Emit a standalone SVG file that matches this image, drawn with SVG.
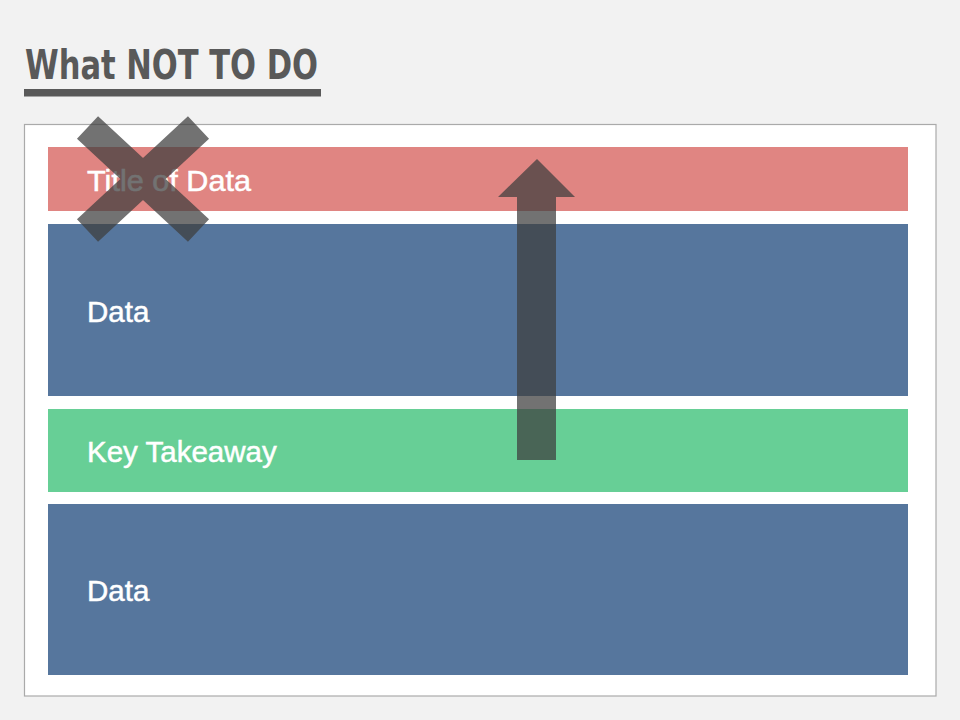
<svg xmlns="http://www.w3.org/2000/svg" width="960" height="720" viewBox="0 0 960 720">
<style>
.band-text{font-family:"Liberation Sans",Arial,sans-serif;font-size:29.5px;fill:#ffffff;stroke:#ffffff;stroke-width:0.5}
.overlay{fill:#3e3e3e;fill-opacity:0.73}
</style>
<rect x="0" y="0" width="960" height="720" fill="#f2f2f2"/>
<g id="title">
<text x="25" y="78.5" font-family="'DejaVu Sans Condensed','DejaVu Sans',sans-serif" font-stretch="condensed" font-weight="bold" font-size="41" fill="#595959" textLength="293" lengthAdjust="spacingAndGlyphs">What NOT TO DO</text>
<rect x="24" y="89" width="297" height="7.5" fill="#595959"/>
</g>
<g id="frame">
<rect x="24.5" y="124.5" width="911.5" height="571.5" fill="#ffffff" stroke="#aaaaaa" stroke-width="1.2"/>
</g>
<g id="title-band">
<rect x="48" y="147" width="860" height="64" fill="#e08582"/>
<text class="band-text" x="87" y="190.5" textLength="164" lengthAdjust="spacingAndGlyphs">Title of Data</text>
</g>
<g id="data-1">
<rect x="48" y="224" width="860" height="172" fill="#56769d"/>
<text class="band-text" x="87" y="322">Data</text>
</g>
<g id="key-takeaway">
<rect x="48" y="409" width="860" height="83" fill="#67cf96"/>
<text class="band-text" x="87" y="462">Key Takeaway</text>
</g>
<g id="data-2">
<rect x="48" y="504" width="860" height="171" fill="#56769d"/>
<text class="band-text" x="87" y="601">Data</text>
</g>
<g id="connectors">
<path id="cross" d="M87.5,127.5 L198.5,230.5 M198.5,127.5 L87.5,230.5" fill="none" stroke="#3e3e3e" stroke-opacity="0.73" stroke-width="31"/>
<path id="up-arrow" class="overlay" d="M517,460 L517,197 L498,197 L537,159 L575,197 L556,197 L556,460 Z"/>
</g>
</svg>
